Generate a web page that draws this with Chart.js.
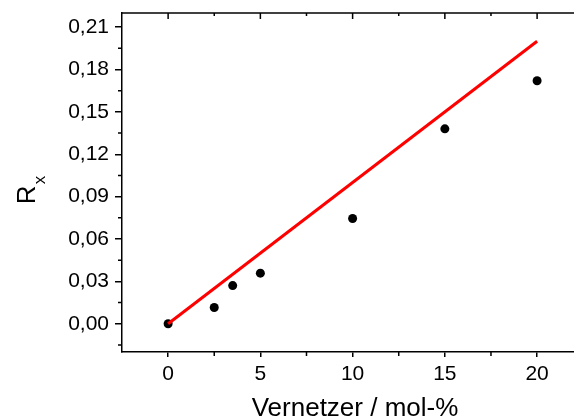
<!DOCTYPE html>
<html><head><meta charset="utf-8">
<script src="https://cdn.jsdelivr.net/npm/chart.js@4"></script>
<style>html,body{margin:0;padding:0;background:#fff}#c{display:block}</style>
</head><body>
<div style="width:574px;height:420px"><canvas id="c" width="574" height="420"></canvas></div>
<script>
const crosslinker = [0, 2.5, 3.5, 5, 10, 15, 20];
const rx = [0.000, 0.0115, 0.027, 0.0358, 0.0745, 0.138, 0.172];
const fitX = [0, 20];
const fitY = [0, 0.2];
const xTicks = [0, 5, 10, 15, 20];
const xMinor = [2.5, 7.5, 12.5, 17.5];
const yTicks = [0, 0.03, 0.06, 0.09, 0.12, 0.15, 0.18, 0.21];
const yMinor = [-0.015, 0.015, 0.045, 0.075, 0.105, 0.135, 0.165, 0.195];
const xTitle = 'Vernetzer / mol-%';
const yTitleMain = 'R';
const yTitleSub = 'x';

const FONT = 'Liberation Sans, Arial, sans-serif';

const extras = {
  id: 'extras',
  afterDraw(chart) {
    const ctx = chart.ctx, a = chart.chartArea;
    const xs = chart.scales.x, ys = chart.scales.y;
    ctx.save();
    ctx.strokeStyle = '#000';
    ctx.lineWidth = 1.5;
    ctx.beginPath();
    ctx.moveTo(a.left, a.top); ctx.lineTo(a.right, a.top);
    ctx.stroke();
    ctx.beginPath();
    xTicks.forEach(v => { const p = xs.getPixelForValue(v); ctx.moveTo(p, a.top); ctx.lineTo(p, a.top + 6); });
    xMinor.forEach(v => { const p = xs.getPixelForValue(v); ctx.moveTo(p, a.top); ctx.lineTo(p, a.top + 3); });
    xMinor.forEach(v => { const p = xs.getPixelForValue(v); ctx.moveTo(p, a.bottom); ctx.lineTo(p, a.bottom + 4); });
    yMinor.forEach(v => { const p = ys.getPixelForValue(v); ctx.moveTo(a.left, p); ctx.lineTo(a.left - 4, p); });
    ctx.stroke();
    ctx.fillStyle = '#000';
    ctx.textBaseline = 'alphabetic';
    ctx.textAlign = 'center';
    ctx.font = '26px ' + FONT;
    ctx.fillText(xTitle, (248 + 462) / 2, 416);
    ctx.translate(35, 190);
    ctx.rotate(-Math.PI / 2);
    ctx.font = '26px ' + FONT;
    const wR = ctx.measureText(yTitleMain).width;
    ctx.font = '17px ' + FONT;
    const wX = ctx.measureText(yTitleSub).width;
    const start = -(wR + wX + 1) / 2;
    ctx.textAlign = 'left';
    ctx.font = '26px ' + FONT;
    ctx.fillText(yTitleMain, start, 0);
    ctx.font = '17px ' + FONT;
    ctx.fillText(yTitleSub, start + wR + 1, 10);
    ctx.restore();
  }
};

new Chart(document.getElementById('c'), {
  type: 'scatter',
  data: {
    datasets: [
      {
        type: 'line',
        data: fitX.map((x, i) => ({ x, y: fitY[i] })),
        borderColor: '#ff0000',
        borderWidth: 3,
        pointRadius: 0,
        fill: false,
        order: 0
      },
      {
        data: crosslinker.map((x, i) => ({ x, y: rx[i] })),
        backgroundColor: '#000',
        borderColor: '#000',
        pointRadius: 4.5,
        pointBorderWidth: 0,
        order: 1
      }
    ]
  },
  options: {
    responsive: false,
    animation: false,
    devicePixelRatio: 1,
    layout: { autoPadding: false, padding: { top: 13, right: 0, bottom: 0, left: 0 } },
    plugins: { legend: { display: false }, tooltip: { enabled: false } },
    scales: {
      x: {
        type: 'linear', min: -2.5, max: 22,
        afterBuildTicks: s => { s.ticks = xTicks.map(v => ({ value: v })); },
        afterFit: s => { s.height = 68; s.paddingLeft = 0; s.paddingRight = 0; },
        grid: { display: true, drawOnChartArea: false, drawTicks: true, tickLength: 5, color: '#000', lineWidth: 1.5 },
        border: { display: true, color: '#000', width: 1.5 },
        ticks: { font: { family: FONT, size: 21 }, color: '#000', padding: 5, maxRotation: 0, autoSkip: false }
      },
      y: {
        type: 'linear', min: -0.02, max: 0.22,
        afterBuildTicks: s => { s.ticks = yTicks.map(v => ({ value: v })); },
        afterFit: s => { s.width = 122; s.paddingTop = 0; s.paddingBottom = 0; },
        grid: { display: true, drawOnChartArea: false, drawTicks: true, tickLength: 7, color: '#000', lineWidth: 1.5 },
        border: { display: true, color: '#000', width: 1.5 },
        ticks: { font: { family: FONT, size: 21 }, color: '#000', padding: 6, autoSkip: false,
          callback: v => v.toFixed(2).replace('.', ',') }
      }
    }
  },
  plugins: [extras]
});
</script>
</body></html>
